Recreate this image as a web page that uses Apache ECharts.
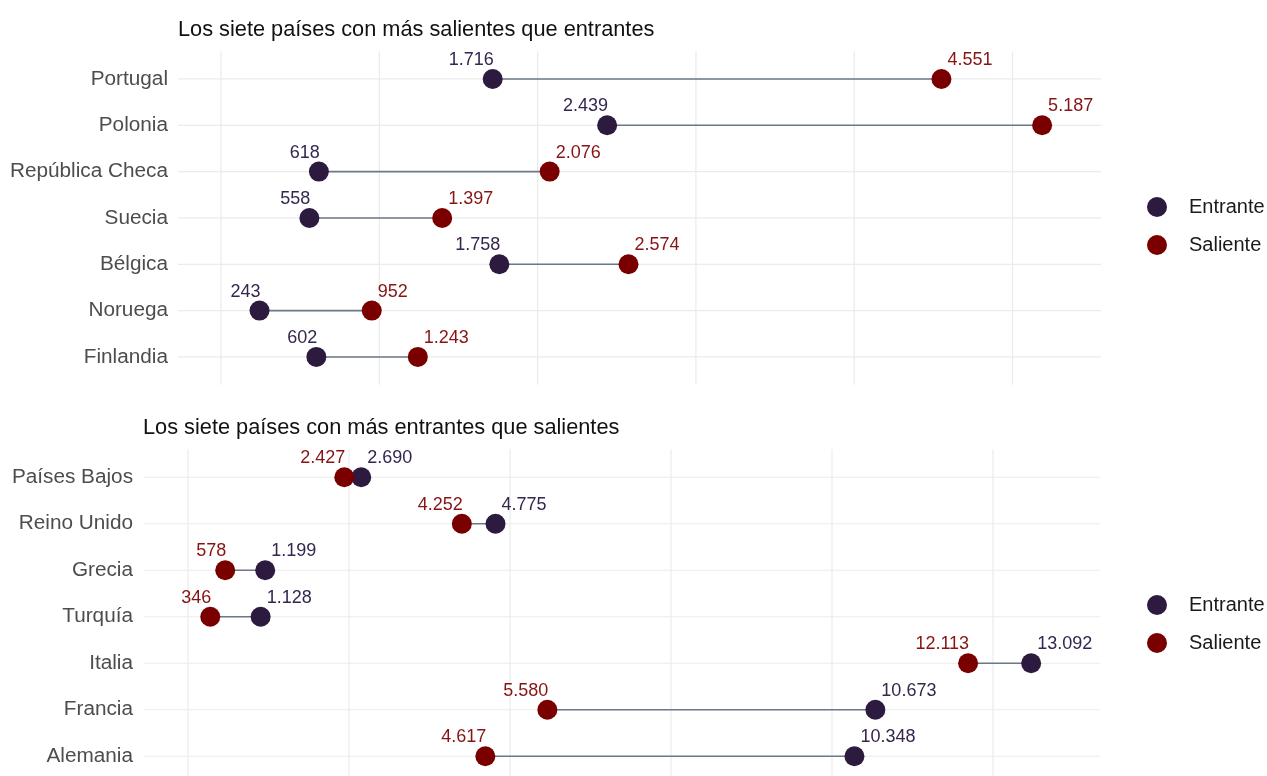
<!DOCTYPE html>
<html>
<head>
<meta charset="utf-8">
<script src="https://cdn.jsdelivr.net/npm/echarts@6/dist/echarts.min.js"></script>
<style>html,body{margin:0;padding:0;background:#fff;overflow:hidden;}#c{width:1267px;height:800px;}</style>
</head>
<body>
<div id="c"></div>
<script>
const catsTop = ['Portugal', 'Polonia', 'República Checa', 'Suecia', 'Bélgica', 'Noruega', 'Finlandia'];
const entranteTop = [1716, 2439, 618, 558, 1758, 243, 602];
const salienteTop = [4551, 5187, 2076, 1397, 2574, 952, 1243];

const catsBot = ['Países Bajos', 'Reino Unido', 'Grecia', 'Turquía', 'Italia', 'Francia', 'Alemania'];
const entranteBot = [2690, 4775, 1199, 1128, 13092, 10673, 10348];
const salienteBot = [2427, 4252, 578, 346, 12113, 5580, 4617];

const xTicksTop = [0, 1000, 2000, 3000, 4000, 5000];
const xTicksBot = [0, 2500, 5000, 7500, 10000, 12500];

const titleTop = 'Los siete países con más salientes que entrantes';
const titleBot = 'Los siete países con más entrantes que salientes';

const FONT = '"Liberation Sans", Arial, sans-serif';
const C_ENT = '#2d1a3f';
const C_SAL = '#7a0000';
const GRID_C = '#ebebeb';

function fmt(v) { return String(v).replace(/\B(?=(\d{3})+(?!\d))/g, '.'); }

function gridSeriesV(idx, ticks, n) {
  return {
    type: 'custom', xAxisIndex: idx, yAxisIndex: idx, z: 0, silent: true,
    data: ticks.map(v => [v, 0]), encode: { x: 0, y: 1 },
    renderItem: function (params, api) {
      const v = api.value(0);
      const a = api.coord([v, 0]);
      const b = api.coord([v, n - 1]);
      const band = Math.abs(b[1] - a[1]) / (n - 1);
      const y0 = Math.min(a[1], b[1]) - 0.6 * band;
      const y1 = Math.max(a[1], b[1]) + 0.6 * band;
      return { type: 'line', shape: { x1: a[0], y1: y0, x2: a[0], y2: y1 }, style: { stroke: GRID_C, lineWidth: 1.2 } };
    }
  };
}
function gridSeriesH(idx, cats) {
  return {
    type: 'custom', xAxisIndex: idx, yAxisIndex: idx, z: 0, silent: true,
    data: cats.map((c, i) => [0, i]), encode: { x: 0, y: 1 },
    renderItem: function (params, api) {
      const p = api.coord([0, api.value(1)]);
      const cs = params.coordSys;
      return { type: 'line', shape: { x1: cs.x, y1: p[1], x2: cs.x + cs.width, y2: p[1] }, style: { stroke: GRID_C, lineWidth: 1.2 } };
    }
  };
}
function segSeries(idx, ent, sal) {
  return {
    type: 'custom', xAxisIndex: idx, yAxisIndex: idx, z: 1, silent: true,
    data: ent.map((e, i) => [e, sal[i], i]), encode: { x: [0, 1], y: 2 },
    renderItem: function (params, api) {
      const y = api.value(2);
      const p1 = api.coord([api.value(0), y]);
      const p2 = api.coord([api.value(1), y]);
      return { type: 'line', shape: { x1: p1[0], y1: p1[1], x2: p2[0], y2: p2[1] }, style: { stroke: '#6c7788', lineWidth: 1.6 } };
    }
  };
}
function dotSeries(idx, name, vals, color, labelColor, side) {
  return {
    type: 'scatter', name: name, xAxisIndex: idx, yAxisIndex: idx, z: 3,
    symbol: 'circle', symbolSize: 20,
    itemStyle: { color: color, opacity: 1 },
    data: vals.map((v, i) => [v, i]),
    label: {
      show: true, position: 'inside',
      align: side === 'left' ? 'right' : 'left',
      verticalAlign: 'middle',
      offset: side === 'left' ? [1, -19] : [6, -19],
      color: labelColor, fontSize: 18, fontFamily: FONT,
      formatter: p => fmt(p.value[0])
    },
    emphasis: { disabled: true }
  };
}
function legendCfg(top) {
  return {
    data: ['Entrante', 'Saliente'], orient: 'vertical', left: 1147, top: top,
    padding: 0, itemGap: 18, itemWidth: 20, itemHeight: 20, icon: 'circle',
    textStyle: { fontSize: 20, color: '#1a1a1a', fontFamily: FONT, padding: [0, 0, 0, 17] }
  };
}
function yAxisCfg(idx, cats, margin) {
  return {
    type: 'category', gridIndex: idx, data: cats, inverse: true,
    axisLine: { show: false }, axisTick: { show: false }, splitLine: { show: false },
    axisLabel: { fontSize: 20.75, color: '#4d4d4d', fontFamily: FONT, margin: margin }
  };
}
function xAxisCfg(idx, min, max) {
  return {
    type: 'value', gridIndex: idx, min: min, max: max,
    axisLine: { show: false }, axisTick: { show: false }, axisLabel: { show: false }, splitLine: { show: false }
  };
}

const chart = echarts.init(document.getElementById('c'), null, { renderer: 'canvas' });
chart.setOption({
  backgroundColor: '#ffffff',
  animation: false,
  title: [
    { text: titleTop, left: 178, top: 19, padding: 0, textStyle: { fontSize: 21.75, fontWeight: 'normal', color: '#111', fontFamily: FONT } },
    { text: titleBot, left: 143, top: 417, padding: 0, textStyle: { fontSize: 21.75, fontWeight: 'normal', color: '#111', fontFamily: FONT } }
  ],
  legend: [legendCfg(197), legendCfg(595)],
  grid: [
    { left: 178, top: 55.8, width: 923, height: 324.3 },
    { left: 144, top: 454, width: 956, height: 325.5 }
  ],
  xAxis: [xAxisCfg(0, -272, 5559), xAxisCfg(1, -683, 14161)],
  yAxis: [yAxisCfg(0, catsTop, 10), yAxisCfg(1, catsBot, 11)],
  series: [
    gridSeriesV(0, xTicksTop, catsTop.length),
    gridSeriesH(0, catsTop),
    segSeries(0, entranteTop, salienteTop),
    dotSeries(0, 'Entrante', entranteTop, C_ENT, '#35264d', 'left'),
    dotSeries(0, 'Saliente', salienteTop, C_SAL, '#861414', 'right'),
    gridSeriesV(1, xTicksBot, catsBot.length),
    gridSeriesH(1, catsBot),
    segSeries(1, entranteBot, salienteBot),
    dotSeries(1, 'Entrante', entranteBot, C_ENT, '#35264d', 'right'),
    dotSeries(1, 'Saliente', salienteBot, C_SAL, '#861414', 'left')
  ]
});
</script>
</body>
</html>
